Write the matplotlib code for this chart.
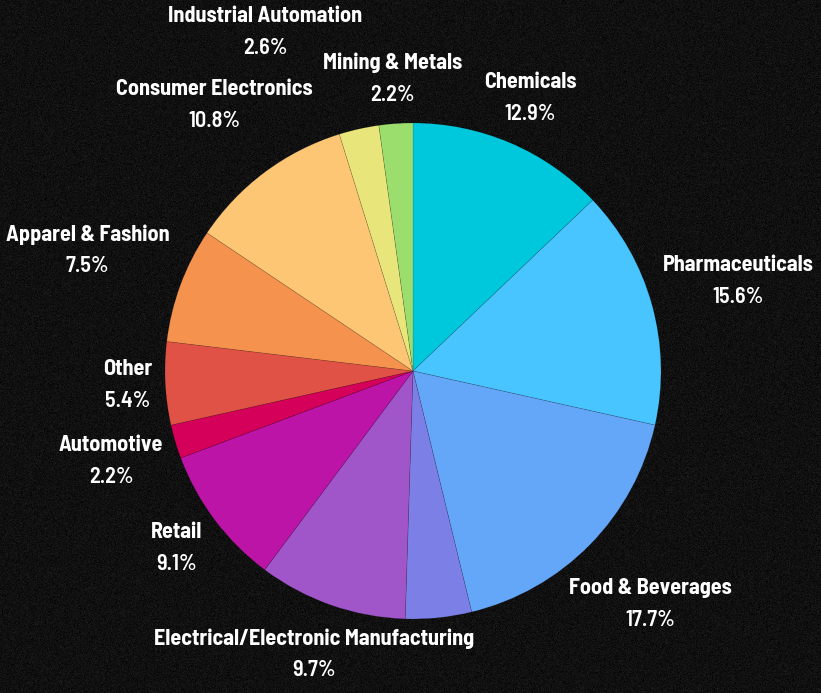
import numpy as np
import matplotlib.pyplot as plt

# industry share (%), clockwise from 12 o'clock
industries = ['Chemicals', 'Pharmaceuticals', 'Food & Beverages', '',
              'Electrical/Electronic Manufacturing', 'Retail', 'Automotive',
              'Other', 'Apparel & Fashion', 'Consumer Electronics',
              'Industrial Automation', 'Mining & Metals']
shares = [12.9, 15.6, 17.7, 4.3, 9.7, 9.1, 2.2, 5.4, 7.5, 10.8, 2.6, 2.2]
colors = ['#00c8dc', '#48c4fe', '#64a6f8', '#7b7fe6', '#a056c9', '#bd14a8',
          '#d5005a', '#e05245', '#f5924e', '#fdc675', '#e8e57a', '#9cde6e']

# label placement: distance from centre (in radii) and small angle nudges
label_dist = [1.20, 1.36, 1.34, 0, 1.21, 1.19, 1.27, 1.15, 1.40, 1.34, 1.49, 1.18]
label_nudge = [0, 0, 0, 0, 0, 0, 0, 0, 0, 0, 11, 0]

W, H = 821, 693
cx, cy, R = 413, H - 371, 248

plt.rcParams['font.family'] = ['Barlow Semi Condensed', 'DejaVu Sans']

fig = plt.figure(figsize=(W / 100, H / 100), dpi=100)

# dark speckled backdrop
rng = np.random.default_rng(3)
bg = 0.065 + rng.normal(0, 0.02, (H, W))
bg = np.clip(bg, 0, 1)
bax = fig.add_axes([0, 0, 1, 1], zorder=0)
bax.imshow(np.dstack([bg, bg, bg]), aspect='auto', interpolation='nearest')
bax.axis('off')

ax = fig.add_axes([0, 0, 1, 1], zorder=1)
ax.patch.set_alpha(0)

wedges, _ = ax.pie(shares, colors=colors, startangle=90, counterclock=False,
                   center=(cx, cy), radius=R,
                   wedgeprops=dict(edgecolor=(0, 0, 0, 0.15), linewidth=0.5))
ax.set_xlim(0, W)
ax.set_ylim(0, H)
ax.set_aspect('equal')
ax.axis('off')

for w, name, val, d, nd in zip(wedges, industries, shares, label_dist, label_nudge):
    if not name:
        continue
    ang = np.deg2rad((w.theta1 + w.theta2) / 2 + nd)
    x = cx + R * d * np.cos(ang)
    y = cy + R * d * np.sin(ang)
    ax.text(x, y + 16, name, ha='center', va='center', color='white',
            fontsize=16, fontweight='bold')
    ax.text(x, y - 16, f'{val}%', ha='center', va='center', color='white',
            fontsize=16, fontweight=600)

fig.savefig('out.png', dpi=100)
